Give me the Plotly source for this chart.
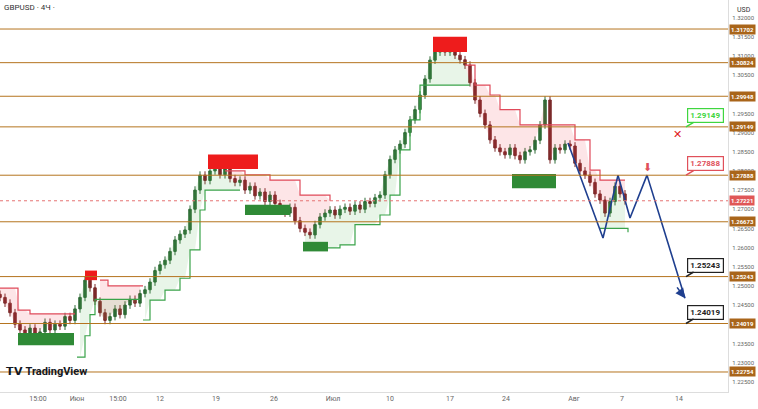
import plotly.graph_objects as go

# bar positions in chart slots and closing prices
bar_x = list(range(0, 630, 5))
closes = [1.2470, 1.2455, 1.2430, 1.2400, 1.2385, 1.2372, 1.2390, 1.2375, 1.2380, 1.2405,
          1.2385, 1.2400, 1.2395, 1.2420, 1.2410, 1.2440, 1.2470, 1.2515, 1.2495, 1.2460,
          1.2430, 1.2410, 1.2420, 1.2440, 1.2425, 1.2450, 1.2465, 1.2455, 1.2480, 1.2490,
          1.2510, 1.2540, 1.2555, 1.2567, 1.2590, 1.2620, 1.2635, 1.2646, 1.2700, 1.2750,
          1.2789, 1.2775, 1.2800, 1.2815, 1.2790, 1.2805, 1.2780, 1.2770, 1.2776, 1.2750,
          1.2760, 1.2735, 1.2745, 1.2720, 1.2737, 1.2715, 1.2700, 1.2690, 1.2705, 1.2670,
          1.2650, 1.2640, 1.2633, 1.2660, 1.2680, 1.2690, 1.2698, 1.2685, 1.2700, 1.2705,
          1.2695, 1.2711, 1.2700, 1.2720, 1.2715, 1.2730, 1.2737, 1.2790, 1.2830, 1.2855,
          1.2870, 1.2900, 1.2933, 1.2960, 1.2998, 1.3040, 1.3089, 1.3110, 1.3128, 1.3110,
          1.3120, 1.3102, 1.3090, 1.3076, 1.3030, 1.2985, 1.2950, 1.2920, 1.2881, 1.2860,
          1.2850, 1.2842, 1.2860, 1.2840, 1.2829, 1.2850, 1.2855, 1.2880, 1.2920, 1.2985,
          1.2829, 1.2860, 1.2855, 1.2870, 1.2865, 1.2820, 1.2800, 1.2789, 1.2770, 1.2740,
          1.2724, 1.2690, 1.2720, 1.2760, 1.2740, 1.2722]
opens = [closes[0] + 0.0008] + closes[:-1]
highs = [max(o, c) + 0.0010 for o, c in zip(opens, closes)]
lows = [min(o, c) - 0.0010 for o, c in zip(opens, closes)]

red_trail = [
    [(0, 1.2494), (18, 1.2437), (30, 1.2427), (75, 1.2427)],
    [(100, 1.2515), (108, 1.2500), (143, 1.2500)],
    [(225, 1.2800), (245, 1.2790), (270, 1.2776), (300, 1.2737), (330, 1.2722)],
    [(465, 1.3076), (475, 1.3024), (490, 1.2998), (500, 1.2960), (520, 1.2920),
     (550, 1.2920), (575, 1.2881), (590, 1.2802), (600, 1.2776), (625, 1.2776)],
]
green_trail = [
    [(77, 1.2314), (85, 1.2370), (90, 1.2425), (95, 1.2465), (140, 1.2465)],
    [(143, 1.2411), (150, 1.2463), (165, 1.2489), (180, 1.2520), (190, 1.2594),
     (200, 1.2698), (205, 1.2750), (240, 1.2750)],
    [(305, 1.2599), (340, 1.2607), (355, 1.2660), (380, 1.2685), (390, 1.2737),
     (400, 1.2855), (410, 1.2933), (420, 1.3024), (470, 1.3024)],
    [(600, 1.2650), (628, 1.2640)],
]
supply_boxes = [(85, 97, 1.2515, 1.2540), (208, 258, 1.2805, 1.2843), (433, 467, 1.3110, 1.3150)]
demand_boxes = [(18, 74, 1.2345, 1.2377), (245, 290, 1.2685, 1.2712),
                (303, 328, 1.2590, 1.2615), (512, 556, 1.2755, 1.2792)]

levels = [1.31702, 1.30824, 1.29948, 1.29149, 1.27888, 1.26673, 1.25243, 1.24019, 1.22754]
last_price = 1.27221
proj_x = [568, 603, 618, 630, 647, 685]
proj_y = [1.2873, 1.2625, 1.2789, 1.2677, 1.2789, 1.2468]
tick_pos = [38, 77, 118, 160, 216, 274, 333, 390, 450, 506, 574, 622, 679]
tick_text = ["15:00", "Июн", "15:00", "12", "19", "26", "Июл", "10", "17", "24", "Авг", "7", "14"]

LEVEL_COL = "#b5741f"
fig = go.Figure()


def step_value(seg, x):
    v = seg[0][1]
    for px, py in seg:
        if px <= x:
            v = py
    return v


def close_at(x):
    i = min(range(len(bar_x)), key=lambda k: abs(bar_x[k] - x))
    return closes[i]


for segs, col, fillc in [(red_trail, "#e04a5a", "rgba(242,54,69,0.13)"),
                         (green_trail, "#3aa34a", "rgba(76,175,80,0.13)")]:
    for seg in segs:
        xs = [x for x in bar_x if seg[0][0] <= x <= seg[-1][0]]
        poly_x = xs + xs[::-1]
        poly_y = [step_value(seg, x) for x in xs] + [close_at(x) for x in xs[::-1]]
        fig.add_trace(go.Scatter(x=poly_x, y=poly_y, fill="toself", fillcolor=fillc,
                                 line=dict(width=0), hoverinfo="skip", mode="lines"))
        fig.add_trace(go.Scatter(x=[p[0] for p in seg], y=[p[1] for p in seg], mode="lines",
                                 line=dict(color=col, width=1.2, shape="hv"), hoverinfo="skip"))

fig.add_trace(go.Candlestick(x=bar_x, open=opens, high=highs, low=lows, close=closes,
                             increasing=dict(line=dict(color="#2e6b36", width=1), fillcolor="#2e6b36"),
                             decreasing=dict(line=dict(color="#7a2a2a", width=1), fillcolor="#7a2a2a"),
                             whiskerwidth=0))

fig.add_trace(go.Scatter(x=proj_x, y=proj_y, mode="lines", line=dict(color="#1f3f8f", width=1.6)))
fig.add_annotation(x=685, y=1.2468, ax=676, ay=1.2500, xref="x", yref="y", axref="x", ayref="y",
                   showarrow=True, arrowhead=2, arrowsize=1.2, arrowwidth=1.6, arrowcolor="#1f3f8f", text="")

for x0, x1, y0, y1 in supply_boxes:
    fig.add_shape(type="rect", x0=x0, x1=x1, y0=y0, y1=y1, fillcolor="#ee1c1c", line_width=0)
for x0, x1, y0, y1 in demand_boxes:
    fig.add_shape(type="rect", x0=x0, x1=x1, y0=y0, y1=y1, fillcolor="#2f8a36", line_width=0)

for lv in levels:
    fig.add_shape(type="line", x0=0, x1=1, xref="paper", y0=lv, y1=lv, line=dict(color=LEVEL_COL, width=1))
    fig.add_annotation(x=1.002, xref="paper", y=lv, xanchor="left", text=f"<b>{lv:.5f}</b>", showarrow=False,
                       bgcolor="#a9651a", font=dict(color="white", size=6), borderpad=1)
fig.add_shape(type="line", x0=0, x1=1, xref="paper", y0=last_price, y1=last_price,
              line=dict(color="#e57373", width=1, dash="dot"))
fig.add_annotation(x=1.002, xref="paper", y=last_price, xanchor="left", text=f"<b>{last_price:.5f}</b>",
                   showarrow=False, bgcolor="#e05757", font=dict(color="white", size=6), borderpad=1)

callouts = [(1.29149, "#3fd63f", "#3fd63f"), (1.27888, "#e0505a", "#e0505a"),
            (1.25243, "#222222", "#222222"), (1.24019, "#222222", "#222222")]
for lv, border, fcol in callouts:
    fig.add_annotation(x=686, y=lv, ax=705, ay=lv + 0.0030, xref="x", yref="y", axref="x", ayref="y",
                       text=f"<b>{lv:.5f}</b>", showarrow=True, arrowhead=0, arrowcolor=border,
                       arrowwidth=1.5, bordercolor=border, borderwidth=1.2, bgcolor="white",
                       font=dict(color=fcol, size=8), borderpad=2)
fig.add_annotation(x=677, y=1.2895, text="✕", showarrow=False, font=dict(color="#e02020", size=11))
fig.add_annotation(x=647, y=1.2808, text="⬇", showarrow=False, font=dict(color="#e0505a", size=11))

fig.add_annotation(x=0.003, y=0.997, xref="paper", yref="paper", xanchor="left", yanchor="top",
                   text="GBPUSD · 4Ч ·", showarrow=False, font=dict(size=8, color="#333"))
fig.add_annotation(x=0.005, y=0.03, xref="paper", yref="paper", xanchor="left", yanchor="bottom",
                   text="<b>𝗧𝗩 TradingView</b>", showarrow=False, font=dict(size=11, color="#131722"))
fig.add_annotation(x=1.01, y=0.99, xref="paper", yref="paper", xanchor="left", yanchor="top",
                   text="USD", showarrow=False, font=dict(size=7, color="#333"))

fig.update_layout(
    width=758, height=409, margin=dict(l=0, r=30, t=0, b=17),
    paper_bgcolor="white", plot_bgcolor="white", showlegend=False,
    font=dict(family="Roboto", size=6, color="#666"),
    xaxis=dict(range=[0, 728], rangeslider_visible=False, tickvals=tick_pos, ticktext=tick_text,
               showgrid=False, zeroline=False, showline=True, linecolor="#ddd", tickfont=dict(size=7)),
    yaxis=dict(range=[1.22232, 1.32459], side="right", dtick=0.005, tickformat=".5f",
               showgrid=False, zeroline=False, showline=True, linecolor="#ddd", ticklabelstandoff=2),
)
fig.write_html("out.html", config={"displayModeBar": False},
               post_script="document.body.style.margin='0';document.body.style.overflow='hidden';")
